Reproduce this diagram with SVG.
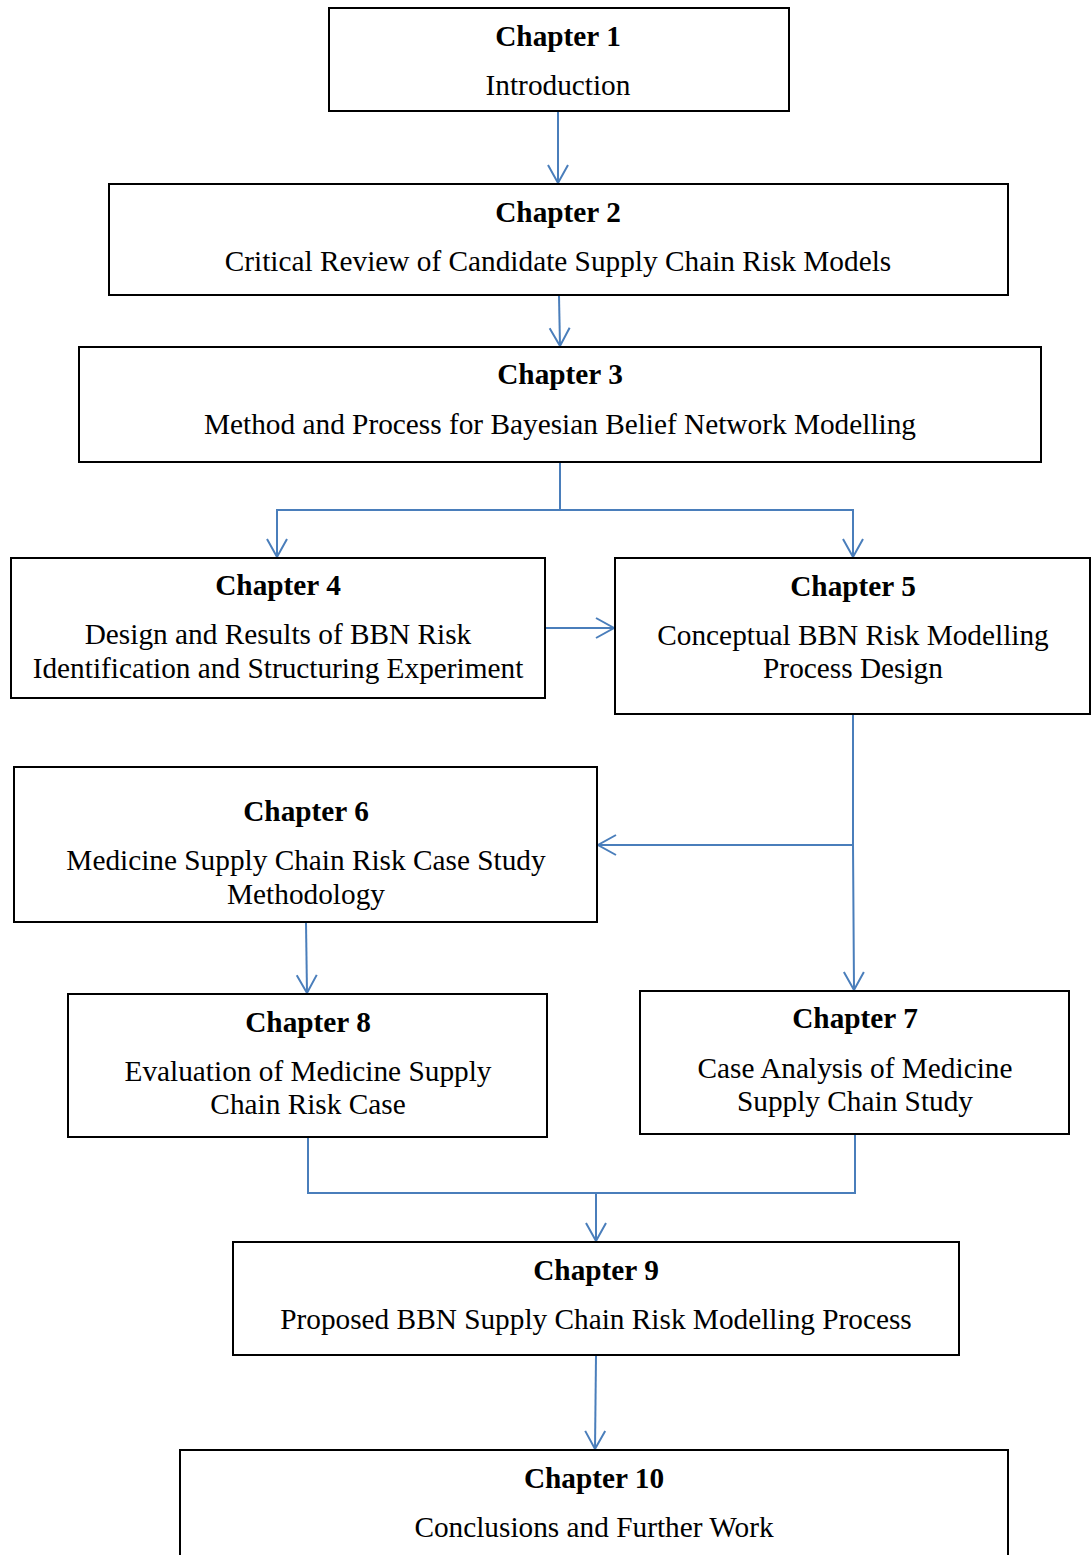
<svg xmlns="http://www.w3.org/2000/svg" width="1092" height="1555" viewBox="0 0 1092 1555">
  <style>
    .box { fill: #ffffff; stroke: #000000; stroke-width: 2; }
    .title { font-family: "Liberation Serif", "Times New Roman", serif; font-size: 29.3px; font-weight: bold; fill: #000; text-anchor: middle; }
    .sub { font-family: "Liberation Serif", "Times New Roman", serif; font-size: 29.3px; fill: #000; text-anchor: middle; }
    .link { fill: none; stroke: #4a7ebb; stroke-width: 2; }
  </style>
  <defs>
    <marker id="arrow" viewBox="0 0 24 24" refX="20" refY="12" markerWidth="24" markerHeight="24" markerUnits="userSpaceOnUse" orient="auto">
      <path d="M2,2 L20,12 L2,22" fill="none" stroke="#4a7ebb" stroke-width="2"/>
    </marker>
  </defs>
  <rect width="1092" height="1555" fill="#ffffff"/>

  <g id="connectors">
    <path class="link" d="M558,112 L558,183" marker-end="url(#arrow)"/>
    <path class="link" d="M559,296 L560,346" marker-end="url(#arrow)"/>
    <path class="link" d="M560,463 L560,510 L277,510 L277,557" marker-end="url(#arrow)"/>
    <path class="link" d="M560,510 L853,510 L853,557" marker-end="url(#arrow)"/>
    <path class="link" d="M545,628 L614,628" marker-end="url(#arrow)"/>
    <path class="link" d="M853,715 L853,845 L854,990" marker-end="url(#arrow)"/>
    <path class="link" d="M853,845 L598,845" marker-end="url(#arrow)"/>
    <path class="link" d="M306,923 L307,993" marker-end="url(#arrow)"/>
    <path class="link" d="M308,1138 L308,1193 L855,1193 L855,1135"/>
    <path class="link" d="M596,1193 L596,1241" marker-end="url(#arrow)"/>
    <path class="link" d="M596,1356 L595,1449" marker-end="url(#arrow)"/>
  </g>

  <g id="ch1">
    <rect class="box" x="329" y="8" width="460" height="103"/>
    <text class="title" x="558" y="46">Chapter 1</text>
    <text class="sub" x="558" y="95">Introduction</text>
  </g>
  <g id="ch2">
    <rect class="box" x="109" y="184" width="899" height="111"/>
    <text class="title" x="558" y="222">Chapter 2</text>
    <text class="sub" x="558" y="271">Critical Review of Candidate Supply Chain Risk Models</text>
  </g>
  <g id="ch3">
    <rect class="box" x="79" y="347" width="962" height="115"/>
    <text class="title" x="560" y="384">Chapter 3</text>
    <text class="sub" x="560" y="434">Method and Process for Bayesian Belief Network Modelling</text>
  </g>
  <g id="ch4">
    <rect class="box" x="11" y="558" width="534" height="140"/>
    <text class="title" x="278" y="595">Chapter 4</text>
    <text class="sub" x="278" y="644">Design and Results of BBN Risk</text>
    <text class="sub" x="278" y="678">Identification and Structuring Experiment</text>
  </g>
  <g id="ch5">
    <rect class="box" x="615" y="558" width="475" height="156"/>
    <text class="title" x="853" y="596">Chapter 5</text>
    <text class="sub" x="853" y="645">Conceptual BBN Risk Modelling</text>
    <text class="sub" x="853" y="678">Process Design</text>
  </g>
  <g id="ch6">
    <rect class="box" x="14" y="767" width="583" height="155"/>
    <text class="title" x="306" y="821">Chapter 6</text>
    <text class="sub" x="306" y="870">Medicine Supply Chain Risk Case Study</text>
    <text class="sub" x="306" y="904">Methodology</text>
  </g>
  <g id="ch8">
    <rect class="box" x="68" y="994" width="479" height="143"/>
    <text class="title" x="308" y="1032">Chapter 8</text>
    <text class="sub" x="308" y="1081">Evaluation of Medicine Supply</text>
    <text class="sub" x="308" y="1114">Chain Risk Case</text>
  </g>
  <g id="ch7">
    <rect class="box" x="640" y="991" width="429" height="143"/>
    <text class="title" x="855" y="1028">Chapter 7</text>
    <text class="sub" x="855" y="1078">Case Analysis of Medicine</text>
    <text class="sub" x="855" y="1111">Supply Chain Study</text>
  </g>
  <g id="ch9">
    <rect class="box" x="233" y="1242" width="726" height="113"/>
    <text class="title" x="596" y="1280">Chapter 9</text>
    <text class="sub" x="596" y="1329">Proposed BBN Supply Chain Risk Modelling Process</text>
  </g>
  <g id="ch10">
    <rect class="box" x="180" y="1450" width="828" height="130"/>
    <text class="title" x="594" y="1488">Chapter 10</text>
    <text class="sub" x="594" y="1537">Conclusions and Further Work</text>
  </g>
</svg>
